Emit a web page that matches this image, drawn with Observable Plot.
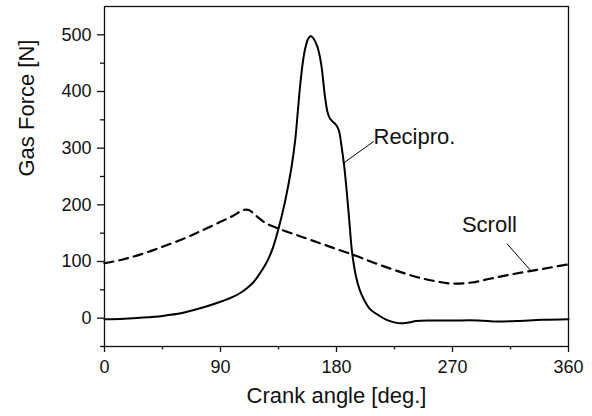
<!DOCTYPE html>
<html>
<head>
<meta charset="utf-8">
<script src="https://cdn.jsdelivr.net/npm/d3@7"></script>
<script src="https://cdn.jsdelivr.net/npm/@observablehq/plot@0.6"></script>
<style>
  html, body { margin: 0; padding: 0; background: #fff; }
  #chart svg { display: block; }
</style>
</head>
<body>
<div id="chart"></div>
<script>
// Gas force on the crank mechanism over one revolution: reciprocating vs scroll compressor
const reciproAngle = [0, 15, 30, 45, 60, 75, 90, 100, 105, 110, 115, 120, 125, 130, 135, 140, 145, 148, 150, 152, 155, 158, 160, 162, 165, 168, 171, 173, 175, 178, 180, 182, 184, 186, 188, 190, 192, 195, 198, 202, 206, 212, 218, 224, 229, 235, 242, 253, 270, 290, 305, 320, 340, 360];
const reciproForce = [-2, -1, 1, 4, 9, 18, 29, 38, 44, 52, 62, 77, 95, 120, 158, 205, 265, 315, 365, 415, 468, 493, 498, 494, 480, 450, 392, 364, 352, 345, 340, 330, 302, 268, 222, 170, 118, 75, 50, 30, 16, 6, -2, -7, -9, -8, -5, -4, -4, -4, -6, -5, -3, -2];

const scrollAngle = [0, 15, 30, 45, 60, 75, 90, 100, 108, 112, 118, 125, 135, 150, 165, 180, 195, 210, 225, 240, 255, 270, 285, 300, 315, 330, 345, 360];
const scrollForce = [97, 104, 114, 126, 139, 154, 170, 181, 191, 191, 180, 168, 158, 146, 134, 122, 110, 97, 85, 74, 66, 61, 63, 70, 77, 83, 89, 95];

const xMajorTicks = [0, 90, 180, 270, 360];
const xMinorTicks = [45, 135, 225, 315];
const yMajorTicks = [0, 100, 200, 300, 400, 500];
const yMinorTicks = [-50, 50, 150, 250, 350, 450];

const seriesLabels = ["Recipro.", "Scroll"];
const xTitle = "Crank angle [deg.]";
const yTitle = "Gas Force [N]";

const recipro = reciproAngle.map((a, i) => ({angle: a, force: reciproForce[i]}));
const scroll = scrollAngle.map((a, i) => ({angle: a, force: scrollForce[i]}));

// label positions and leader lines, in data units
const labels = [
  {name: seriesLabels[0], x: 208.7, y: 319, x1: 185.1, y1: 273, x2: 208.9, y2: 312},
  {name: seriesLabels[1], x: 277.3, y: 164, x1: 312.2, y1: 131.5, x2: 330.5, y2: 84.5}
];

const font = "'Liberation Sans', Arial, Helvetica, sans-serif";

const chart = Plot.plot({
  width: 592,
  height: 416,
  marginLeft: 104,
  marginRight: 24,
  marginTop: 6,
  marginBottom: 70,
  style: {fontFamily: font, color: "#111", background: "#fff"},
  x: {domain: [0, 360]},
  y: {domain: [-50, 550]},
  marks: [
    Plot.frame({stroke: "#111", strokeWidth: 1.3}),
    Plot.axisX({ticks: xMajorTicks, tickSize: 6, tickPadding: 8, fontSize: 18, label: null, strokeWidth: 1.3}),
    Plot.axisX({ticks: xMinorTicks, tickSize: 3.5, text: null, label: null, strokeWidth: 1.3}),
    Plot.axisY({ticks: yMajorTicks, tickSize: 7, tickPadding: 6, fontSize: 18, label: null, strokeWidth: 1.3}),
    Plot.axisY({ticks: yMinorTicks, tickSize: 4, text: null, label: null, strokeWidth: 1.3}),
    Plot.line(scroll, {x: "angle", y: "force", curve: "catmull-rom", stroke: "#000", strokeWidth: 2.2, strokeDasharray: "9,6"}),
    Plot.line(recipro, {x: "angle", y: "force", curve: "catmull-rom", stroke: "#000", strokeWidth: 2}),
    Plot.link(labels, {x1: "x1", y1: "y1", x2: "x2", y2: "y2", stroke: "#000", strokeWidth: 1}),
    Plot.text(labels, {x: "x", y: "y", text: "name", textAnchor: "start", fontSize: 22, fill: "#111"}),
    Plot.text([xTitle], {frameAnchor: "bottom", dy: 56, fontSize: 22, fill: "#111"}),
    Plot.text([yTitle], {frameAnchor: "left", rotate: -90, dx: -78, fontSize: 22, fill: "#111"})
  ]
});

document.getElementById("chart").appendChild(chart);
</script>
</body>
</html>
